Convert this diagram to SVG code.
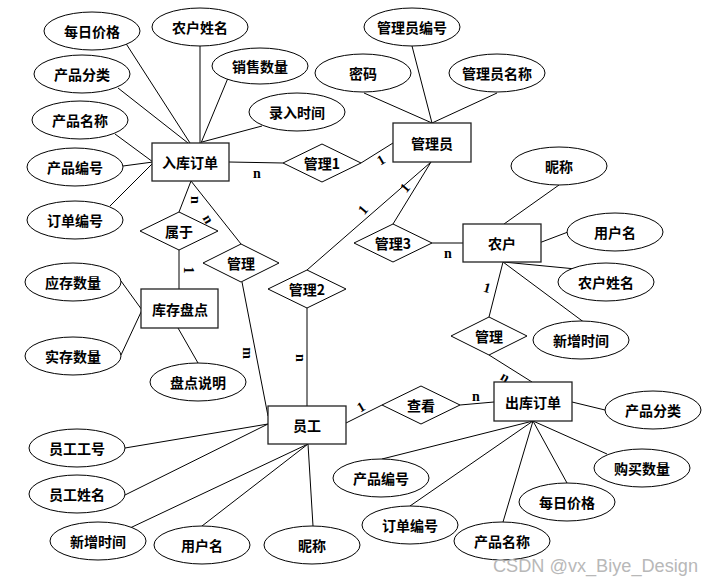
<svg xmlns="http://www.w3.org/2000/svg" width="713" height="586" viewBox="0 0 713 586">
<style>
.e{fill:#fff;stroke:#000;stroke-width:1}
.r{fill:#fff;stroke:#222;stroke-width:1.3}
.d{fill:#fff;stroke:#000;stroke-width:1}
.c line{stroke:#000;stroke-width:1}
.t{font-family:"Noto Sans CJK SC","Liberation Serif",sans-serif;font-size:14px;font-weight:bold;text-anchor:middle;dominant-baseline:central;fill:#000}
.l{font-family:"Liberation Serif",serif;font-size:14px;font-weight:bold;text-anchor:middle;dominant-baseline:central;fill:#000}
.w{font-family:"Liberation Sans",Arial,sans-serif;font-size:18px;fill:#b8b8b8}
</style>
<rect width="713" height="586" fill="#fff"/>
<g id="connectors" class="c">
<line x1="125" y1="42" x2="190" y2="143"/>
<line x1="200" y1="46" x2="200" y2="143"/>
<line x1="228" y1="78" x2="201" y2="143"/>
<line x1="118" y1="88" x2="188" y2="143"/>
<line x1="262" y1="126" x2="202" y2="142"/>
<line x1="115" y1="134" x2="153" y2="162"/>
<line x1="123" y1="166" x2="153" y2="162"/>
<line x1="110" y1="206" x2="153" y2="163"/>
<line x1="229" y1="162" x2="283" y2="163"/>
<line x1="361" y1="163" x2="393" y2="143"/>
<line x1="191" y1="181" x2="179" y2="212"/>
<line x1="191" y1="181" x2="241" y2="244"/>
<line x1="179" y1="250" x2="179" y2="289"/>
<line x1="121" y1="281" x2="142" y2="310"/>
<line x1="121" y1="355" x2="142" y2="310"/>
<line x1="178" y1="328" x2="198" y2="363"/>
<line x1="242" y1="282" x2="268" y2="416"/>
<line x1="364" y1="93" x2="432" y2="123"/>
<line x1="412" y1="46" x2="432" y2="123"/>
<line x1="497" y1="93" x2="432" y2="123"/>
<line x1="431" y1="162" x2="307" y2="270"/>
<line x1="431" y1="162" x2="393" y2="224"/>
<line x1="432" y1="243" x2="463" y2="243"/>
<line x1="504" y1="224" x2="559" y2="185"/>
<line x1="539" y1="243" x2="568" y2="232"/>
<line x1="503" y1="262" x2="576" y2="269"/>
<line x1="503" y1="262" x2="585" y2="323"/>
<line x1="503" y1="262" x2="489" y2="317"/>
<line x1="489" y1="355" x2="532" y2="382"/>
<line x1="307" y1="308" x2="307" y2="406"/>
<line x1="346" y1="423" x2="382" y2="405"/>
<line x1="460" y1="405" x2="494" y2="402"/>
<line x1="572" y1="402" x2="605" y2="410"/>
<line x1="533" y1="421" x2="607" y2="454"/>
<line x1="533" y1="421" x2="567" y2="483"/>
<line x1="533" y1="421" x2="503" y2="522"/>
<line x1="533" y1="421" x2="410" y2="506"/>
<line x1="533" y1="421" x2="382" y2="459"/>
<line x1="125" y1="448" x2="268" y2="424"/>
<line x1="125" y1="495" x2="268" y2="424"/>
<line x1="130" y1="528" x2="308" y2="444"/>
<line x1="202" y1="526" x2="308" y2="444"/>
<line x1="313" y1="526" x2="308" y2="444"/>
</g>
<g id="labels">
<text class="l" x="257" y="173">n</text>
<text class="l" transform="translate(381,160) rotate(-30)">1</text>
<text class="l" transform="translate(405,188) rotate(-50)">1</text>
<text class="l" transform="translate(363,210) rotate(-50)">1</text>
<text class="l" x="448" y="253">n</text>
<text class="l" transform="translate(487,288) rotate(15)">1</text>
<text class="l" transform="translate(505,377) rotate(30)">n</text>
<text class="l" x="476" y="396">n</text>
<text class="l" transform="translate(361,407) rotate(-30)">1</text>
<text class="l" transform="translate(195,200) rotate(90)">n</text>
<text class="l" transform="translate(208,219) rotate(60)">n</text>
<text class="l" transform="translate(188,270) rotate(90)">1</text>
<text class="l" transform="translate(247,353) rotate(90)">m</text>
<text class="l" transform="translate(300,358) rotate(90)">n</text>
</g>
<g id="n-rukudingdan"><rect class="r" x="152" y="143" width="77" height="38"/><text class="t" x="190" y="162">入库订单</text></g>
<g id="a-meirijiage1"><ellipse class="e" cx="92" cy="31" rx="48" ry="19"/><text class="t" x="92" y="31">每日价格</text></g>
<g id="a-nonghuxingming1"><ellipse class="e" cx="200" cy="27" rx="48" ry="19"/><text class="t" x="200" y="27">农户姓名</text></g>
<g id="a-xiaoshoushuliang"><ellipse class="e" cx="260" cy="66" rx="48" ry="18"/><text class="t" x="260" y="66">销售数量</text></g>
<g id="a-chanpinfenlei1"><ellipse class="e" cx="82" cy="74" rx="48" ry="19"/><text class="t" x="82" y="74">产品分类</text></g>
<g id="a-lurushijian"><ellipse class="e" cx="297" cy="112" rx="48" ry="19"/><text class="t" x="297" y="112">录入时间</text></g>
<g id="a-chanpinmingcheng1"><ellipse class="e" cx="80" cy="120" rx="48" ry="19"/><text class="t" x="80" y="120">产品名称</text></g>
<g id="a-chanpinbianhao1"><ellipse class="e" cx="75" cy="167" rx="48" ry="19"/><text class="t" x="75" y="167">产品编号</text></g>
<g id="a-dingdanbianhao1"><ellipse class="e" cx="75" cy="220" rx="48" ry="19"/><text class="t" x="75" y="220">订单编号</text></g>
<g id="r-guanli1"><polygon class="d" points="283,163 322,144 361,163 322,182"/><text class="t" x="322" y="163">管理1</text></g>
<g id="n-guanliyuan"><rect class="r" x="393" y="123" width="78" height="39"/><text class="t" x="432" y="143">管理员</text></g>
<g id="a-guanliyuanbianhao"><ellipse class="e" cx="412" cy="27" rx="48" ry="19"/><text class="t" x="412" y="27">管理员编号</text></g>
<g id="a-mima"><ellipse class="e" cx="363" cy="73" rx="48" ry="19"/><text class="t" x="363" y="73">密码</text></g>
<g id="a-guanliyuanmingcheng"><ellipse class="e" cx="497" cy="73" rx="48" ry="19"/><text class="t" x="497" y="73">管理员名称</text></g>
<g id="a-nicheng1"><ellipse class="e" cx="559" cy="166" rx="48" ry="19"/><text class="t" x="559" y="166">昵称</text></g>
<g id="r-guanli3"><polygon class="d" points="354,243 393,224 432,243 393,262"/><text class="t" x="393" y="243">管理3</text></g>
<g id="n-nonghu"><rect class="r" x="463" y="224" width="78" height="38"/><text class="t" x="502" y="243">农户</text></g>
<g id="a-yonghuming1"><ellipse class="e" cx="615" cy="232" rx="48" ry="19"/><text class="t" x="615" y="232">用户名</text></g>
<g id="a-nonghuxingming2"><ellipse class="e" cx="606" cy="282" rx="48" ry="19"/><text class="t" x="606" y="282">农户姓名</text></g>
<g id="a-xinzengshijian1"><ellipse class="e" cx="581" cy="340" rx="48" ry="19"/><text class="t" x="581" y="340">新增时间</text></g>
<g id="r-guanli-right"><polygon class="d" points="451,336 489,317 527,336 489,355"/><text class="t" x="489" y="336">管理</text></g>
<g id="r-shuyu"><polygon class="d" points="140,231 179,212 218,231 179,250"/><text class="t" x="179" y="231">属于</text></g>
<g id="r-guanli-left"><polygon class="d" points="203,263 241,244 279,263 241,282"/><text class="t" x="241" y="263">管理</text></g>
<g id="r-guanli2"><polygon class="d" points="268,289 307,270 346,289 307,308"/><text class="t" x="307" y="289">管理2</text></g>
<g id="n-kucunpandian"><rect class="r" x="141" y="289" width="77" height="39"/><text class="t" x="180" y="309">库存盘点</text></g>
<g id="a-yingcunshuliang"><ellipse class="e" cx="73" cy="282" rx="48" ry="19"/><text class="t" x="73" y="282">应存数量</text></g>
<g id="a-shicunshuliang"><ellipse class="e" cx="73" cy="356" rx="48" ry="19"/><text class="t" x="73" y="356">实存数量</text></g>
<g id="a-pandianshuoming"><ellipse class="e" cx="198" cy="382" rx="48" ry="19"/><text class="t" x="198" y="382">盘点说明</text></g>
<g id="n-yuangong"><rect class="r" x="268" y="406" width="78" height="38"/><text class="t" x="307" y="425">员工</text></g>
<g id="a-yuangonggonghao"><ellipse class="e" cx="77" cy="448" rx="48" ry="19"/><text class="t" x="77" y="448">员工工号</text></g>
<g id="a-yuangongxingming"><ellipse class="e" cx="77" cy="494" rx="48" ry="19"/><text class="t" x="77" y="494">员工姓名</text></g>
<g id="a-xinzengshijian2"><ellipse class="e" cx="98" cy="541" rx="48" ry="19"/><text class="t" x="98" y="541">新增时间</text></g>
<g id="a-yonghuming2"><ellipse class="e" cx="202" cy="545" rx="48" ry="19"/><text class="t" x="202" y="545">用户名</text></g>
<g id="a-nicheng2"><ellipse class="e" cx="312" cy="545" rx="48" ry="19"/><text class="t" x="312" y="545">昵称</text></g>
<g id="r-chakan"><polygon class="d" points="382,405 421,386 460,405 421,424"/><text class="t" x="421" y="405">查看</text></g>
<g id="n-chukudingdan"><rect class="r" x="494" y="382" width="78" height="39"/><text class="t" x="533" y="402">出库订单</text></g>
<g id="a-chanpinfenlei2"><ellipse class="e" cx="653" cy="410" rx="48" ry="19"/><text class="t" x="653" y="410">产品分类</text></g>
<g id="a-goumaishuliang"><ellipse class="e" cx="642" cy="468" rx="48" ry="19"/><text class="t" x="642" y="468">购买数量</text></g>
<g id="a-meirijiage2"><ellipse class="e" cx="567" cy="502" rx="48" ry="19"/><text class="t" x="567" y="502">每日价格</text></g>
<g id="a-chanpinmingcheng2"><ellipse class="e" cx="502" cy="541" rx="48" ry="19"/><text class="t" x="502" y="541">产品名称</text></g>
<g id="a-dingdanbianhao2"><ellipse class="e" cx="410" cy="525" rx="48" ry="19"/><text class="t" x="410" y="525">订单编号</text></g>
<g id="a-chanpinbianhao2"><ellipse class="e" cx="381" cy="478" rx="48" ry="19"/><text class="t" x="381" y="478">产品编号</text></g>
<text class="w" x="493" y="572" textLength="205" lengthAdjust="spacingAndGlyphs">CSDN @vx_Biye_Design</text>
</svg>
